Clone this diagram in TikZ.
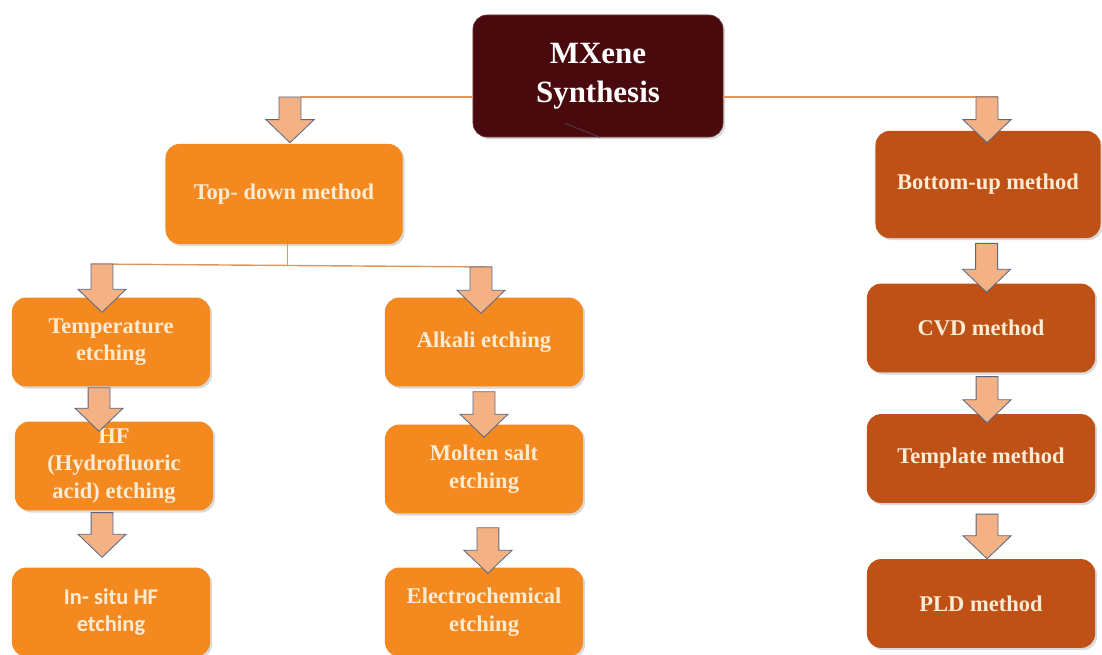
\documentclass[tikz,border=0pt]{standalone}
\usepackage{fontspec}
\setmainfont{Liberation Serif}
\newfontfamily\calibrifont{Carlito}
\usepackage{xcolor}
\usepackage{tikz}
\usetikzlibrary{
  calc,
  shadows
}
\definecolor{RootMaroon}{HTML}{4A0A0D}
\definecolor{TopOrange}{HTML}{F3891F}
\definecolor{BottomBrown}{HTML}{BF5016}
\definecolor{LabelCream}{HTML}{FBEBD3}
\definecolor{LinkOrange}{HTML}{E0965A}
\definecolor{ArrowPeach}{HTML}{F4B183}
\definecolor{ArrowEdge}{HTML}{56688A}
\tikzset{
  box/.style={
    rounded corners=10pt,
    align=center,
    inner sep=0pt,
    text=LabelCream,
    font=\fontsize{16}{19.5}\selectfont\bfseries,
    drop shadow={opacity=0.3, shadow xshift=1.5pt, shadow yshift=-1.5pt}
  },
  root/.style={
    box,
    fill=RootMaroon,
    draw=RootMaroon!80!white,
    text=white,
    font=\fontsize{22}{27.7}\selectfont\bfseries,
    minimum width=6.25cm,
    minimum height=3.05cm
  },
  method/.style={
    box,
    fill=TopOrange,
    minimum width=5.925cm,
    minimum height=2.5cm
  },
  etching/.style={
    box,
    fill=TopOrange,
    minimum width=4.95cm,
    minimum height=2.22cm
  },
  route/.style={
    box,
    fill=BottomBrown,
    minimum width=5.7cm,
    minimum height=2.22cm
  },
  link/.style={
    draw=LinkOrange,
    line width=1pt
  },
  flow/.style={
    fill=ArrowPeach,
    draw=ArrowEdge,
    line width=0.6pt,
    line join=miter
  }
}
\newcommand{\blockarrow}[2]{%
  \draw[flow] let \p1=(#1), \p2=(#2) in
    (\x1-7.8pt,\y1) -- (\x1+7.8pt,\y1) -- (\x1+7.8pt,\y2+16.4pt) --
    (\x1+17.1pt,\y2+16.4pt) -- (\x1,\y2) -- (\x1-17.1pt,\y2+16.4pt) --
    (\x1-7.8pt,\y2+16.4pt) -- cycle;%
}

\begin{document}
\begin{tikzpicture}[
  x=0.025cm,
  y=-0.025cm
]

  \useasboundingbox (0,0) rectangle (1102,655);

  \node[root] (mxene) at (598,76) {MXene\\Synthesis};

  \node[method] (topdown) at (284,194) {Top- down method};

  \node[
    route,
    minimum width=5.625cm,
    minimum height=2.675cm
  ] (bottomup) at (988,184.5) {Bottom-up method};

  \node[etching] (temp) at (111,342) {Temperature\\etching};
  \node[etching] (hf) at (114,466) {HF\\(Hydrofluoric\\acid) etching};
  \node[
    etching,
    font=\calibrifont\fontsize{16}{19.5}\selectfont\bfseries
  ] (insitu) at (111,612) {In- situ HF\\etching};

  \node[etching] (alkali) at (484,342) {Alkali etching};
  \node[etching] (molten) at (484,469) {Molten salt\\etching};
  \node[etching] (electro) at (484,612) {Electrochemical\\etching};

  \node[route] (cvd) at (981,328) {CVD method};
  \node[route] (template) at (981,458.5) {Template method};
  \node[route] (pld) at (981,603.5) {PLD method};

  \draw[ArrowEdge!60!RootMaroon, line width=0.5pt]
    ($(mxene.south)+(-33,-14)$) -- ($(mxene.south)+(2,0)$);

  \coordinate (tdjoin) at (290,97);
  \coordinate (bujoin) at (987,97);
  \coordinate (tempjoin) at (102,264);
  \coordinate (alkjoin) at (481,267);
  \coordinate (etchsplit) at ($(tempjoin)!0.49!(alkjoin)$);

  \draw[link] (mxene.west |- tdjoin) -- ($(tdjoin)+(11,0)$);
  \draw[link] (mxene.east |- bujoin) -- ($(bujoin)+(11,0)$);
  \draw[link] (topdown.south -| etchsplit) -- (etchsplit);
  \draw[link] ($(tempjoin)+(-11,0)$) -- ($(alkjoin)+(11,0)$);

  \blockarrow{tdjoin}{[yshift=0.7pt]topdown.north}
  \blockarrow{tempjoin}{[yshift=-10.7pt]temp.north}
  \blockarrow{alkjoin}{[yshift=-11.4pt]alkali.north}
  \blockarrow{[xshift=-8.5pt,yshift=-0.7pt]temp.south}{[yshift=-7.1pt]hf.north}
  \blockarrow{[xshift=-8.5pt,yshift=-1.4pt]hf.south}{[yshift=7.1pt]insitu.north}
  \blockarrow{[yshift=-3.6pt]alkali.south}{[yshift=-9.2pt]molten.north}
  \blockarrow{[xshift=2.8pt,yshift=-10pt]molten.south}{[yshift=-4.3pt]electro.north}
  \blockarrow{bujoin}{[yshift=-8.5pt]bottomup.north}
  \blockarrow{[xshift=-1pt,yshift=-3.6pt]bottomup.south}{[yshift=-6.4pt]cvd.north}
  \blockarrow{[xshift=4.3pt,yshift=-2.8pt]cvd.south}{[yshift=-6.4pt]template.north}
  \blockarrow{[xshift=4.3pt,yshift=-7.8pt]template.south}{pld.north}

\end{tikzpicture}
\end{document}
